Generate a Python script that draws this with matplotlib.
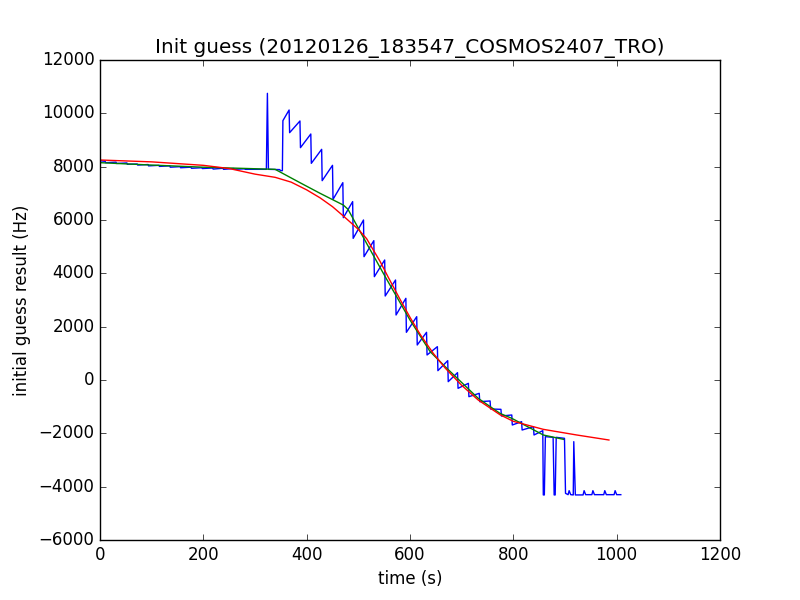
import matplotlib
matplotlib.use('Agg')
import matplotlib.pyplot as plt

plt.style.use('classic')

# raw initial guess (blue)
t_raw = [0, 10, 11, 31, 32, 52, 53, 72, 73, 93, 94, 114, 115, 135, 136, 155, 156,
         176, 177, 197, 198, 218, 219, 238, 239, 259, 260, 280, 281, 322, 324, 326,
         348, 349, 353, 354, 366, 367, 387, 388, 408, 409, 429, 430, 450, 451, 470,
         471, 489, 490, 510, 511, 530, 531, 551, 552, 572, 573, 592, 593, 613, 614,
         632, 633, 653, 654, 673, 674, 692, 693, 713, 714, 734, 735, 755, 756, 776,
         777, 797, 798, 816, 817, 839, 840, 857, 858, 860, 862, 877, 879, 881, 883,
         899, 901, 906, 908, 911, 916, 917, 920, 935, 937, 940, 952, 954, 957, 975,
         977, 980, 995, 997, 1000, 1008]
f_raw = [8220, 8200, 8150, 8170, 8120, 8140, 8090, 8100, 8060, 8080, 8030, 8050, 8010,
         8030, 7980, 8000, 7960, 7980, 7940, 7960, 7930, 7950, 7910, 7940, 7900, 7930,
         7900, 7920, 7900, 7900, 10750, 7900, 7890, 7850, 7850, 9725, 10125, 9275,
         9713, 8713, 9225, 8125, 8650, 7475, 8050, 6775, 7400, 6087, 6690, 5312, 6000,
         4625, 5225, 3875, 4500, 3150, 3750, 2438, 3063, 1788, 2375, 1313, 1788, 938,
         1250, 350, 725, -62, 275, -312, -125, -625, -500, -812, -787, -1087, -1100,
         -1350, -1312, -1687, -1562, -1875, -1750, -2062, -1900, -4310, -4310, -2125,
         -2150, -4310, -4310, -2150, -2187, -4250, -4300, -4150, -4300, -4310, -2312,
         -4310, -4310, -4150, -4300, -4300, -4150, -4300, -4300, -4150, -4300, -4300,
         -4150, -4300, -4300]

# smoothed (green)
t_smooth = [0, 100, 200, 339, 387, 426, 471, 480, 516, 552, 600, 639, 668, 732, 774,
            797, 858, 897]
f_smooth = [8150, 8060, 7980, 7900, 7400, 7000, 6560, 6400, 5125, 3875, 2250, 1063,
            500, -687, -1250, -1437, -2062, -2225]

# fit (red)
t_fit = [0, 100, 200, 250, 300, 339, 370, 400, 426, 450, 471, 500, 516, 542, 558,
         580, 600, 620, 645, 668, 700, 732, 774, 800, 858, 922, 985]
f_fit = [8250, 8180, 8050, 7930, 7720, 7600, 7420, 7130, 6830, 6500, 6150, 5650,
         5300, 4450, 3850, 3050, 2350, 1700, 1000, 450, -200, -750, -1300, -1550,
         -1850, -2060, -2250]

fig = plt.figure(figsize=(8, 6), dpi=100)
ax = fig.add_subplot(111)
ax.plot(t_raw, f_raw, 'b-')
ax.plot(t_smooth, f_smooth, 'g-')
ax.plot(t_fit, f_fit, 'r-')
ax.set_xlim(0, 1200)
ax.set_ylim(-6000, 12000)
ax.set_xlabel('time (s)')
ax.set_ylabel('initial guess result (Hz)')
ax.set_title('Init guess (20120126_183547_COSMOS2407_TRO)')
fig.savefig('out.png', dpi=100)
